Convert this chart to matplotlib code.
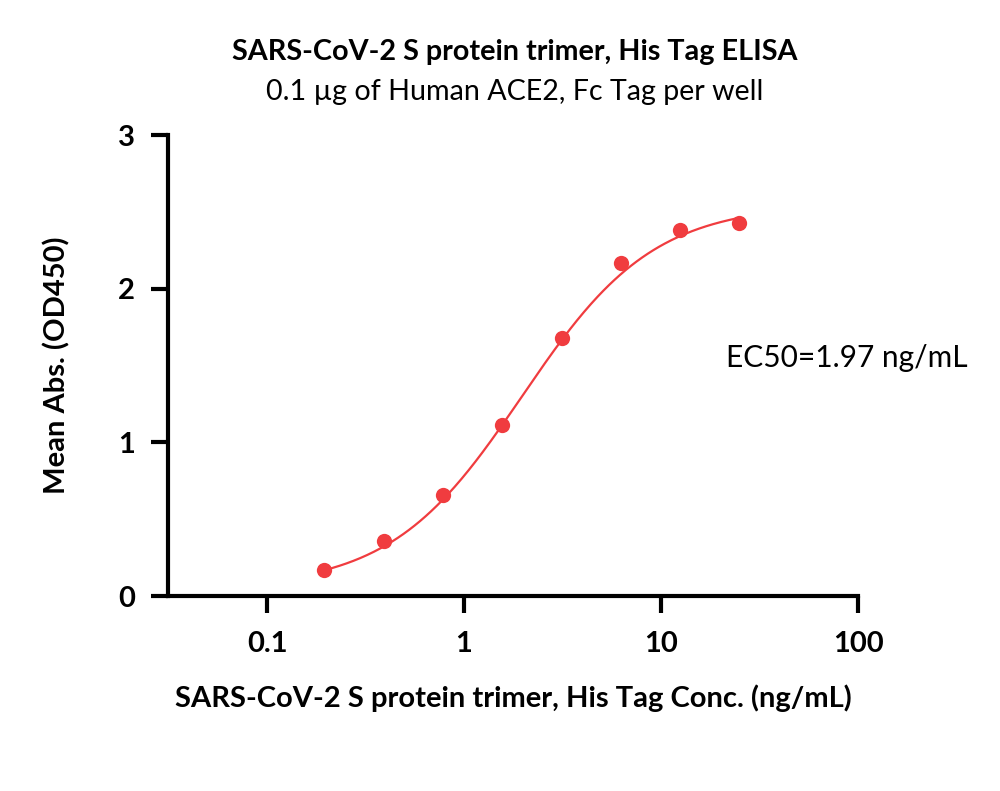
import numpy as np
import matplotlib.pyplot as plt

plt.rcParams['font.family'] = ['Lato', 'DejaVu Sans']

# measured points
conc = [0.195, 0.39, 0.78, 1.56, 3.125, 6.25, 12.5, 25]
od450 = [0.17, 0.36, 0.66, 1.11, 1.68, 2.17, 2.38, 2.43]

# 4PL fit parameters
bottom = 0.05
top = 2.55
ec50 = 1.97
hill = 1.3

red = '#f03c3f'

fig = plt.figure(figsize=(10, 7.91), dpi=100)
ax = fig.add_axes([0.168, 0.2465, 0.69, 0.5828])

xs = np.logspace(np.log10(conc[0]), np.log10(conc[-1]), 300)
ys = bottom + (top - bottom) / (1 + (ec50 / xs) ** hill)
ax.plot(xs, ys, color=red, lw=1.6, zorder=2)
ax.plot(conc, od450, 'o', color=red, ms=11, mec='none', zorder=3)

ax.set_xscale('log')
ax.set_xlim(10 ** -1.503, 100)
ax.set_ylim(0, 3)
ax.set_xticks([0.1, 1, 10, 100])
ax.set_xticklabels(['0.1', '1', '10', '100'])
ax.minorticks_off()
ax.set_yticks([0, 1, 2, 3])

for s in ['top', 'right']:
    ax.spines[s].set_visible(False)
for s in ['left', 'bottom']:
    ax.spines[s].set_linewidth(3)
ax.tick_params(width=3, length=12, labelsize=21)
for lab in ax.get_xticklabels() + ax.get_yticklabels():
    lab.set_fontweight('bold')
ax.tick_params(axis='x', pad=13)
ax.tick_params(axis='y', pad=12)

ax.set_xlabel('SARS-CoV-2 S protein trimer, His Tag Conc. (ng/mL)',
              fontsize=21, fontweight='bold', labelpad=20)
ax.set_ylabel('Mean Abs. (OD450)', fontsize=21, fontweight='bold', labelpad=34)

fig.text(0.515, 0.934, 'SARS-CoV-2 S protein trimer, His Tag ELISA',
         ha='center', va='center', fontsize=20.7, fontweight='bold')
fig.text(0.515, 0.884, '0.1 \u00b5g of Human ACE2, Fc Tag per well',
         ha='center', va='center', fontsize=20.6)
ax.text(0.847, 0.548, 'EC50=1.97 ng/mL', transform=fig.transFigure,
        ha='center', va='center', fontsize=21.5)

fig.savefig('out.png', dpi=100)
